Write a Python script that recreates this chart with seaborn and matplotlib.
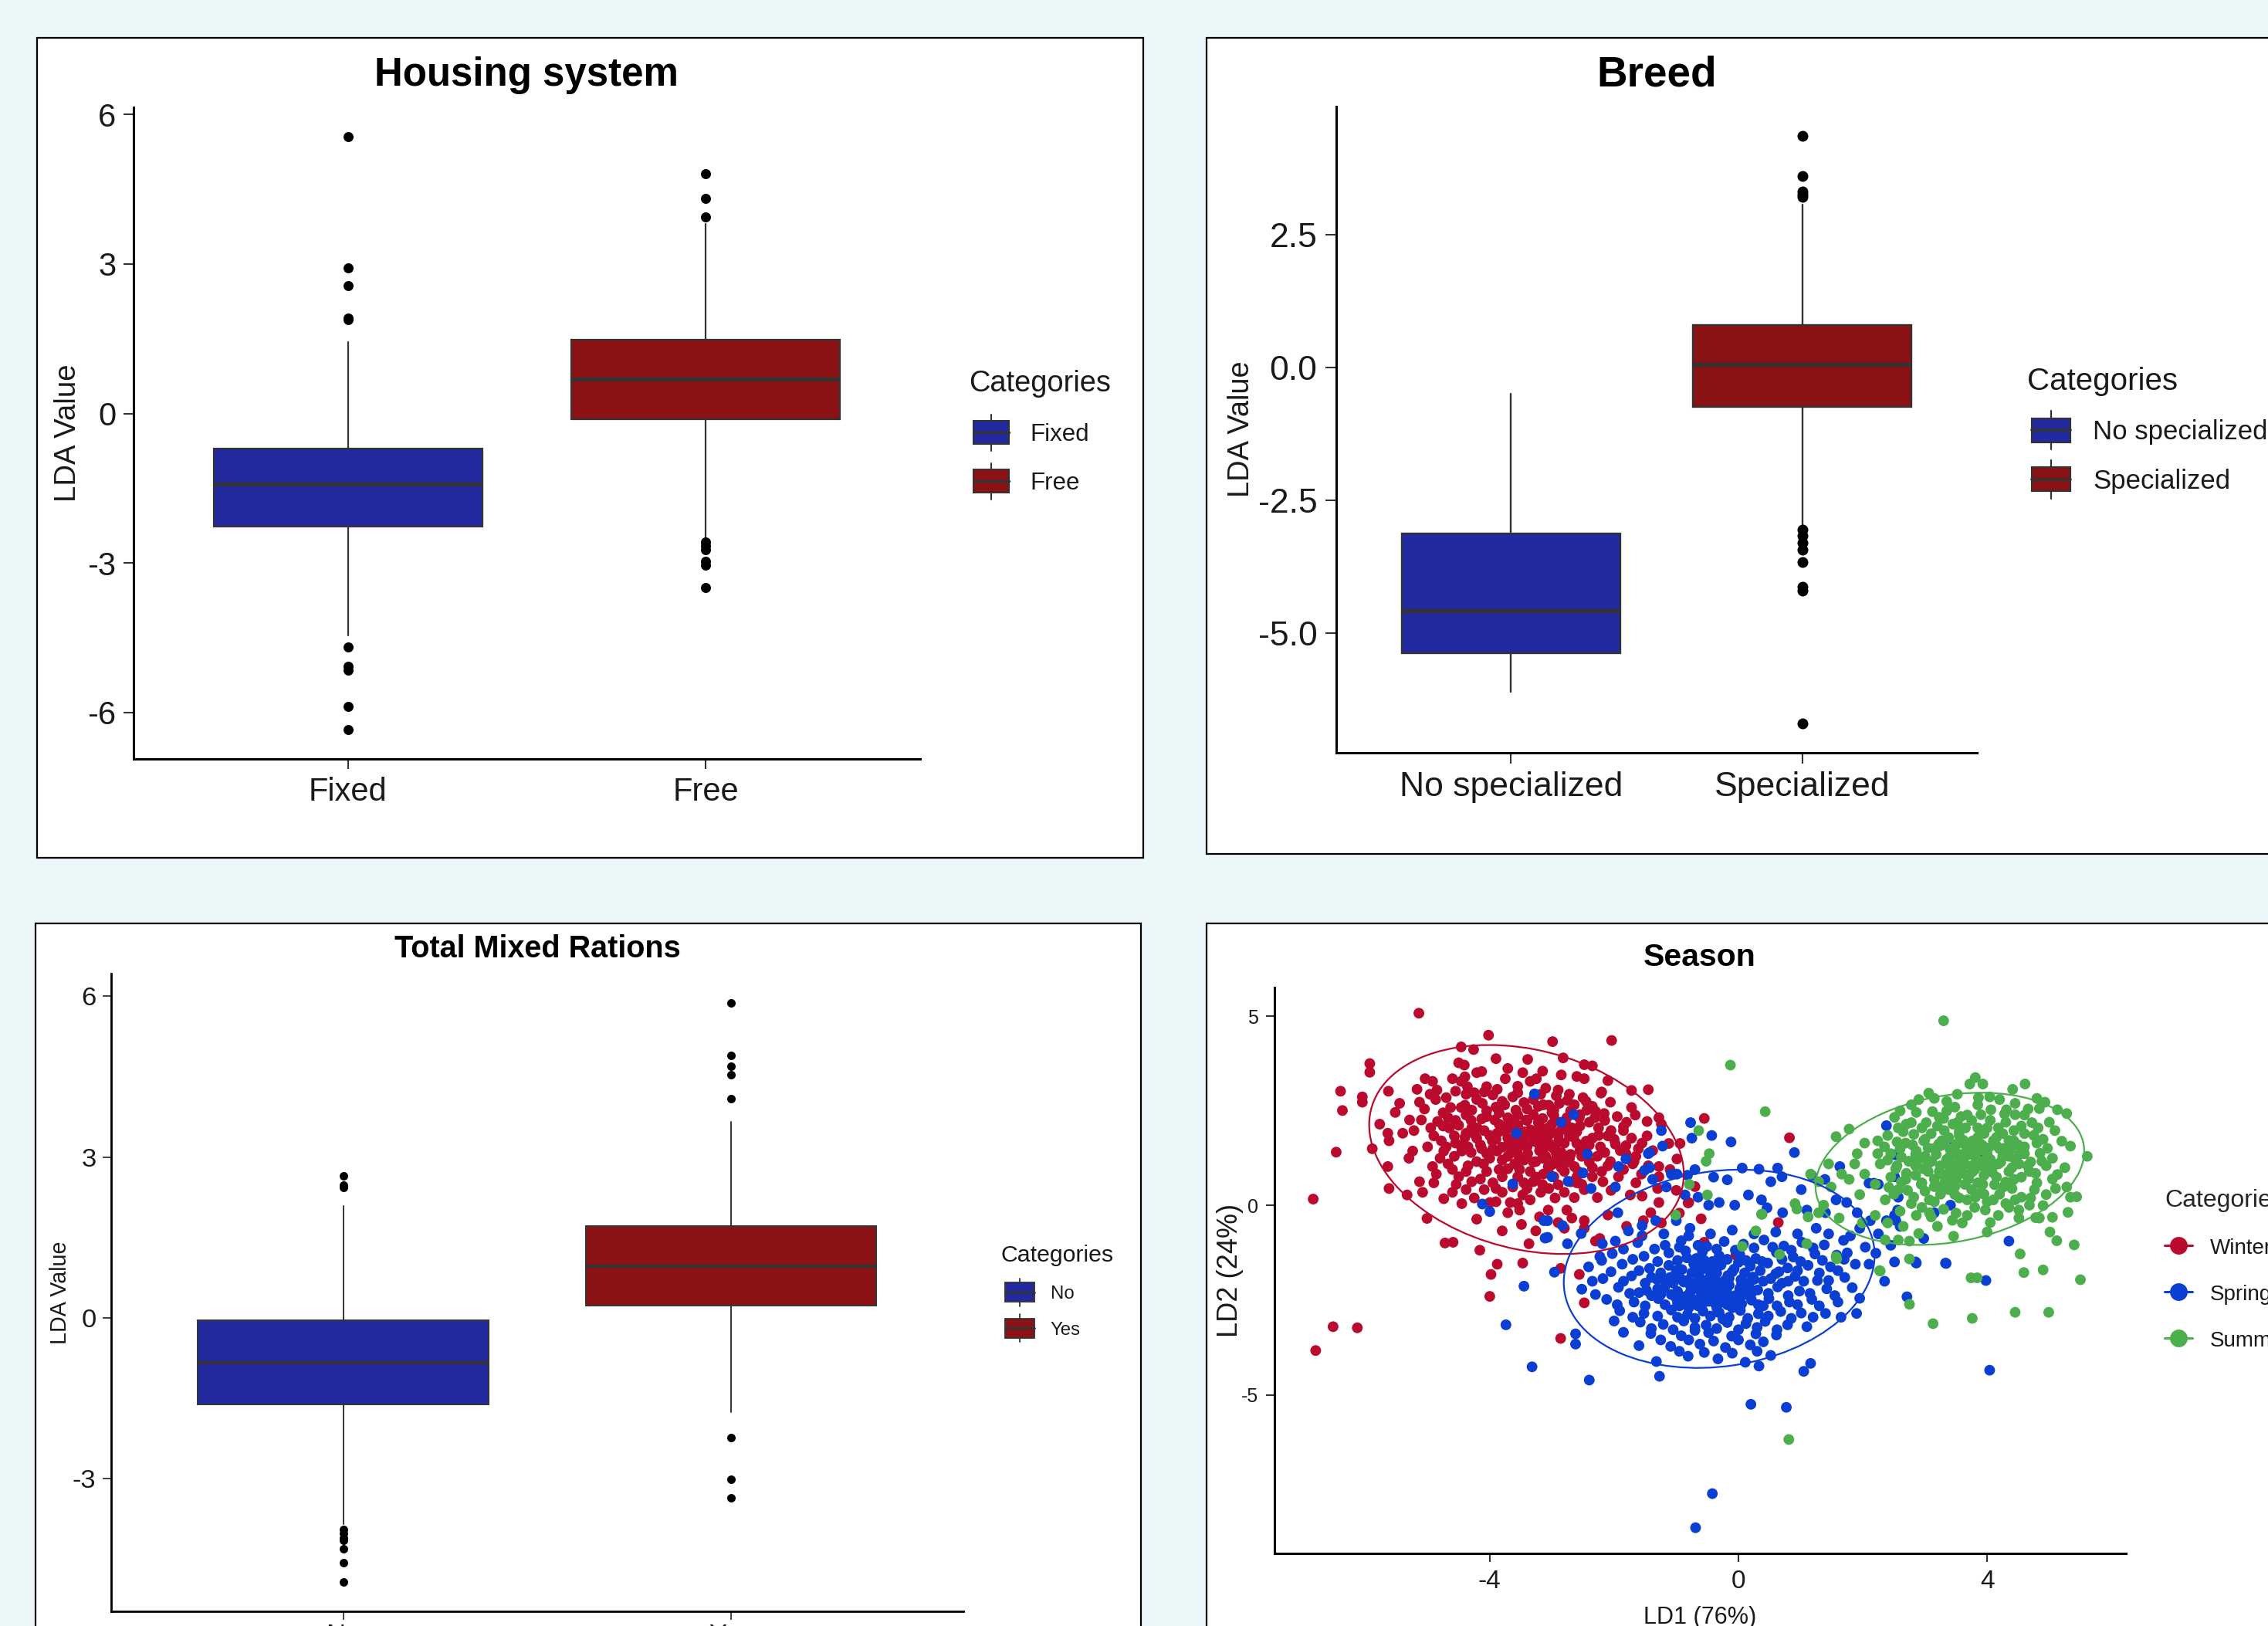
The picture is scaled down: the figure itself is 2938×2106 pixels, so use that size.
import numpy as np
import pandas as pd
import matplotlib
matplotlib.use("Agg")
import matplotlib.pyplot as plt
import matplotlib.patches as mpatches
from matplotlib.patches import Rectangle, Ellipse
from matplotlib.lines import Line2D
from matplotlib.legend_handler import HandlerBase
import seaborn as sns

# ------------------------------------------------------------------ data
housing_groups = ["Fixed", "Free"]
housing_q1 = [-2.27, -0.12]
housing_med = [-1.42, 0.69]
housing_q3 = [-0.70, 1.48]
housing_whislo = [-4.46, -2.52]
housing_whishi = [1.43, 3.81]
housing_fliers = [[5.55, 2.92, 2.56, 1.92, 1.88, -4.68, -5.07, -5.16, -5.88, -6.34],
                  [4.81, 4.31, 3.95, -2.58, -2.66, -2.74, -2.97, -3.04, -3.50]]
housing_yticks = [-6, -3, 0, 3, 6]

breed_groups = ["No specialized", "Specialized"]
breed_q1 = [-5.38, -0.74]
breed_med = [-4.58, 0.06]
breed_q3 = [-3.13, 0.81]
breed_whislo = [-6.12, -2.99]
breed_whishi = [-0.49, 3.08]
breed_fliers = [[],
                [4.37, 3.62, 3.32, 3.27, 3.22, -3.06, -3.17, -3.30, -3.44, -3.67, -4.13, -4.20, -6.71]]
breed_yticks = [-5.0, -2.5, 0.0, 2.5]
breed_yticklabels = ["-5.0", "-2.5", "0.0", "2.5"]

tmr_groups = ["No", "Yes"]
tmr_q1 = [-1.61, 0.23]
tmr_med = [-0.84, 0.97]
tmr_q3 = [-0.05, 1.71]
tmr_whislo = [-3.84, -1.75]
tmr_whishi = [2.09, 3.65]
tmr_fliers = [[2.65, 2.48, 2.44, -3.94, -4.01, -4.10, -4.15, -4.30, -4.56, -4.93],
              [5.88, 4.89, 4.69, 4.54, 4.09, -2.23, -3.01, -3.36]]
tmr_yticks = [-3, 0, 3, 6]

season_names = ["Winter", "Spring", "Summer"]
season_colors = ["#BA0A2D", "#0B3ED2", "#4CAE4C"]
season_xticks = [-4, 0, 4]
season_yticks = [-5, 0, 5]

winter_pts = [
    (-5.14, 5.08), (-4.02, 4.50), (-2.99, 4.33), (-2.04, 4.36), (-4.46, 4.19), (-4.26, 4.12),
    (-5.93, 3.75), (-5.93, 3.52), (-6.40, 3.02), (-6.37, 2.51), (-6.05, 2.87), (-6.05, 2.73),
    (-6.47, 1.41), (-6.84, 0.17), (-6.52, -3.20), (-6.13, -3.23), (-6.80, -3.83),
    (-0.55, 2.30), (-1.45, 3.06), (-5.62, 0.45), (-5.33, 0.28), (-5.01, -0.34), (-4.72, -0.99),
    (-4.59, -0.97), (-4.16, -1.18), (-3.88, -1.55), (-3.98, -1.82), (-3.47, -1.52), (-4.00, -2.40),
    (-2.48, -2.57), (-2.86, -3.51), (-2.56, -1.82), (-2.86, -1.66),
    (-0.55, -0.97), (-0.04, -1.31), (0.64, -0.45), (-0.81, 0.07), (0.82, 1.79),
    (-4.50, 3.77), (-4.41, 3.71), (-4.21, 3.51), (-4.13, 3.54), (-3.90, 3.88), (-3.71, 3.62),
    (-3.47, 3.51), (-3.39, 3.86), (-2.82, 3.90), (-2.48, 3.72), (-2.35, 3.69), (-2.60, 3.41), (-2.48, 3.35),
    (-5.04, 3.35), (-4.92, 3.28), (-5.17, 3.07), (-4.60, 3.35), (-4.46, 3.28), (-4.36, 3.14),
    (-4.05, 3.14), (-3.88, 3.07), (-3.35, 3.28), (-3.25, 3.35), (-2.20, 3.00), (-1.72, 3.04),
    (-5.63, 3.02), (-4.96, 2.94), (-4.87, 2.80), (-5.13, 2.73), (-4.38, 2.94), (-4.21, 2.80),
    (-4.09, 3.00), (-3.63, 2.87), (-3.30, 2.80), (-3.18, 2.94), (-2.93, 2.90), (-2.72, 2.94),
    (-2.64, 2.66), (-2.06, 2.73), (-2.21, 2.97), (-4.63, 2.59), (-4.46, 2.59), (-4.29, 2.52),
    (-3.76, 2.66), (-3.14, 2.66), (-2.97, 2.52), (-2.44, 2.52), (-2.30, 2.49), (-1.72, 2.59),
    (-5.52, 2.46), (-5.77, 2.15), (-5.29, 2.26), (-5.10, 2.26), (-4.84, 2.22), (-4.67, 2.32),
    (-4.38, 2.39), (-4.13, 2.29), (-3.92, 2.26), (-3.71, 2.32), (-3.55, 2.39), (-3.42, 2.26),
    (-3.22, 2.19), (-2.97, 2.39), (-2.76, 2.32), (-2.56, 2.32), (-2.31, 2.32), (-2.16, 2.43),
    (-1.66, 2.39), (-1.47, 2.22), (-1.28, 2.32), (-1.24, 2.15), (-1.85, 2.08), (-4.50, 2.12),
    (-4.29, 2.05), (-3.80, 2.08), (-3.55, 2.12), (-3.06, 2.05), (-2.68, 2.05),
    (-5.89, 1.50), (-5.64, 1.91), (-5.62, 1.71), (-5.40, 1.91), (-5.22, 1.98), (-4.90, 1.84),
    (-4.78, 1.71), (-4.57, 1.84), (-4.38, 1.91), (-4.21, 1.78), (-4.09, 1.98), (-3.96, 1.71),
    (-3.88, 1.91), (-3.71, 1.78), (-3.59, 1.98), (-3.47, 1.71), (-3.35, 1.84), (-3.22, 1.64),
    (-3.06, 1.84), (-2.89, 1.71), (-2.72, 1.84), (-2.60, 1.64), (-2.35, 1.78), (-2.10, 1.84),
    (-1.85, 1.98), (-1.47, 1.84), (-1.12, 1.64), (-0.94, 1.64), (-4.46, 1.58), (-4.13, 1.50),
    (-3.80, 1.54), (-3.55, 1.50), (-2.97, 1.50), (-2.48, 1.50), (-1.81, 1.58), (-1.61, 1.50),
    (-5.24, 1.44), (-4.74, 1.44), (-4.57, 1.30), (-4.45, 1.44), (-4.21, 1.16), (-4.05, 1.37),
    (-3.88, 1.44), (-3.71, 1.30), (-3.59, 1.10), (-3.39, 1.37), (-3.26, 1.16), (-3.10, 1.30),
    (-2.93, 1.37), (-2.72, 1.23), (-2.52, 1.30), (-2.27, 1.30), (-2.06, 1.16), (-1.81, 1.37),
    (-1.68, 1.16), (-1.28, 1.03), (-0.99, 1.23), (-4.67, 1.10), (-3.06, 1.03), (-2.64, 1.03),
    (-5.64, 1.03), (-4.92, 1.03), (-4.86, 0.83), (-4.50, 0.76), (-4.38, 0.90), (-4.29, 0.63),
    (-4.05, 0.90), (-3.80, 0.76), (-3.71, 0.97), (-3.55, 0.76), (-3.35, 0.90), (-3.30, 0.63),
    (-3.14, 0.83), (-2.97, 0.76), (-2.80, 0.90), (-2.70, 0.63), (-2.52, 0.56), (-2.35, 0.76),
    (-2.18, 0.63), (-1.93, 0.76), (-1.56, 0.83), (-1.28, 0.76), (-5.13, 0.63), (-4.54, 0.56),
    (-5.08, 0.35), (-4.38, 0.42), (-4.09, 0.42), (-3.80, 0.35), (-3.63, 0.49), (-3.47, 0.28),
    (-3.35, 0.15), (-3.18, 0.35), (-2.80, 0.35), (-2.64, 0.21), (-2.48, 0.42), (-2.27, 0.21),
    (-1.74, 0.28), (-1.28, 0.08), (-0.80, 0.08), (-4.74, 0.18), (-4.00, 0.08), (-3.67, 0.08),
    (-4.21, -0.36), (-3.71, -0.19), (-3.52, -0.12), (-3.06, -0.12), (-2.76, -0.12), (-2.68, -0.33),
    (-2.48, -0.40), (-1.41, -0.19), (-1.24, -0.46), (-1.53, -0.40),
    (-3.80, -0.67), (-3.49, -0.50), (-3.26, -0.67), (-2.80, -0.60), (-2.48, -0.60), (-2.23, -0.87),
    (-3.37, -1.01), (-2.30, -0.94),
    (-3.60, 2.05), (-3.35, 2.00), (-3.15, 2.30), (-3.00, 2.15), (-2.85, 2.00), (-3.50, 1.85),
    (-3.25, 1.90), (-3.00, 1.95), (-2.80, 1.65), (-3.70, 1.60), (-3.40, 1.55), (-3.10, 1.55),
    (-2.85, 1.40), (-3.55, 1.35), (-3.20, 1.45), (-2.95, 1.20), (-3.45, 1.20), (-3.80, 1.20),
    (-4.15, 1.60), (-4.00, 1.85), (-3.85, 2.45), (-3.40, 2.55), (-4.30, 2.25), (-2.60, 1.95),
    (-2.45, 1.70), (-3.95, 0.60), (-3.45, 0.60), (-2.90, 0.55), (-4.40, 2.65), (-3.05, 2.65),
    (-4.85, 3.05), (-4.70, 2.85), (-4.55, 3.02), (-4.25, 2.98), (-4.12, 2.70), (-3.95, 2.92),
    (-3.80, 2.75), (-3.55, 2.98), (-3.45, 2.72), (-3.10, 3.10), (-2.90, 3.05), (-2.75, 2.78),
    (-2.50, 2.85), (-2.35, 2.62), (-2.15, 2.25), (-1.95, 2.35), (-1.80, 2.20), (-2.05, 1.98),
    (-2.25, 2.05), (-2.40, 2.20), (-2.55, 2.10), (-2.65, 1.80), (-2.22, 1.55), (-1.98, 1.62),
    (-1.72, 1.78), (-1.55, 1.65), (-1.38, 1.45), (-1.65, 1.30), (-1.90, 1.45), (-2.15, 1.40),
    (-2.40, 1.15), (-2.58, 0.90), (-2.85, 1.00), (-3.05, 0.45), (-3.25, 0.75), (-3.52, 0.95),
    (-3.90, 0.45), (-4.15, 0.70), (-4.35, 1.05), (-4.60, 0.95), (-4.80, 1.25), (-5.00, 1.55),
    (-4.95, 2.05), (-4.75, 2.45), (-4.55, 2.25), (-4.20, 2.05), (-4.05, 2.50), (-3.65, 2.25),
    (-3.30, 2.40), (-2.95, 2.25), (-2.70, 2.50), (-3.20, 2.10), (-3.75, 1.95), (-3.95, 1.50),
    (-4.30, 1.40), (-4.55, 1.65), (-3.15, 1.75), (-2.90, 1.85), (-2.55, 1.45), (-3.65, 1.45),
    (-3.30, 1.15), (-3.00, 1.08), (-2.75, 1.15), (-3.85, 0.95), (-4.10, 1.10), (-3.40, 0.45),
    (-2.95, 0.20), (-2.60, 0.60), (-2.20, 0.90), (-1.85, 0.95), (-1.65, 0.60), (-2.05, 0.40),
    (-3.55, 0.05), (-3.20, -0.30), (-2.90, -0.45), (-4.45, 0.05), (-4.90, 0.60), (-5.30, 1.25),
    (-5.45, 2.70), (-5.05, 2.55), (-4.40, 3.40), (-3.75, 3.35), (-3.55, 3.15), (-3.15, 3.55),
    (-2.85, 3.45), (-3.00, 2.45), (-2.45, 2.75), (-2.10, 3.30), (-3.90, 2.60), (-4.65, 2.05),
    (-3.45, 1.95), (-3.05, 1.65), (-2.75, 2.10), (-3.60, 1.75), (-3.85, 2.15), (-4.40, 1.80),
    (-2.85, 1.25), (-2.35, 1.00), (-3.15, 0.55), (-4.25, 0.20),
    (-3.58, 2.52), (-3.22, 2.62), (-2.88, 2.70), (-3.70, 2.15), (-3.12, 1.95), (-2.70, 1.95),
    (-3.30, 1.70), (-2.95, 1.55), (-3.55, 1.60), (-3.90, 1.75), (-4.25, 1.90), (-4.05, 2.35),
    (-3.40, 2.25), (-2.55, 2.40), (-2.25, 1.85), (-2.00, 1.75), (-3.60, 1.10), (-3.15, 1.25),
    (-2.70, 1.35), (-2.40, 1.60), (-4.00, 1.25), (-4.35, 1.55), (-4.70, 1.55), (-4.75, 2.10),
    (-3.05, 0.85), (-2.60, 0.75), (-2.10, 1.05), (-1.70, 1.10), (-1.45, 1.05), (-1.10, 0.95),
    (-1.30, 0.45), (-1.55, 0.25), (-1.00, 0.40), (-0.70, 0.50), (-0.95, -0.20), (-0.60, -0.35),
    (-1.80, -0.55), (-2.10, -0.25), (-3.90, 0.10), (-4.60, 0.35),
]

spring_pts = [
    (-0.69, -8.51), (-0.42, -7.61), (0.77, -5.33), (0.20, -5.25), (-2.40, -4.61), (-3.32, -4.26),
    (-3.74, -3.15), (-3.45, -2.13), (-1.27, -4.51), (0.33, -4.24), (1.05, -4.38), (1.16, -4.17),
    (4.04, -4.35), (3.98, -1.98), (3.34, -1.53), (4.35, -0.94), (2.71, -2.41), (2.85, -1.49),
    (3.96, 1.28), (3.43, 1.53), (2.38, 2.11), (2.52, 1.34), (-2.62, -3.66), (-2.62, -3.39),
    (-2.96, -1.76), (2.51, -1.49), (3.15, -0.19), (2.98, -0.87),
    (-3.28, 2.95), (-2.65, 2.40), (-2.85, 2.20), (-3.57, 1.91), (-2.43, 1.36), (-2.50, 0.86),
    (-3.00, 0.76), (-3.63, 0.57), (-2.74, 0.64), (-4.12, 0.04), (-4.00, -0.16), (-3.07, -0.40),
    (-3.11, -0.86), (-2.37, 0.45), (-1.93, 1.03), (-1.81, 1.23), (-1.43, 1.40), (-1.24, 1.98),
    (-1.22, 1.57), (-0.75, 1.78), (-0.77, 2.19), (-0.99, 0.83), (-1.43, 1.00),
    (-0.82, 0.80), (-0.70, 0.95), (-0.40, 0.75), (-0.18, 0.68), (0.06, 0.99), (0.33, 0.96),
    (0.63, 0.99), (0.70, 0.76), (0.52, 0.63), (-1.45, 1.37), (-0.43, 1.85), (-0.12, 1.68),
    (0.90, 1.40), (1.63, 1.03), (2.51, 0.76), (2.25, 0.56), (2.10, 0.59), (1.39, 0.69), (1.18, 0.79),
    (-1.51, 0.93), (-1.38, 0.69), (-1.08, 0.83), (-1.16, 0.49), (-0.86, 0.28), (-0.65, 0.22),
    (-0.48, 0.01), (-0.31, 0.08), (-0.06, 0.01), (0.16, 0.28), (0.37, 0.15), (0.46, -0.06),
    (0.71, -0.19), (1.01, 0.42), (1.10, -0.12), (1.40, -0.19), (1.57, 0.15), (1.74, 0.08),
    (1.91, -0.19), (2.12, -0.40), (2.38, -0.40), (2.51, -0.26), (-1.94, -0.19), (-1.77, -0.67),
    (-1.55, -0.53), (-1.33, -0.40), (-1.00, -0.40), (-0.78, -0.60), (-2.53, -0.74), (-2.75, -1.01),
    (-2.19, -1.01), (-1.98, -0.94), (-2.23, -1.35), (-3.13, -0.40), (-3.07, -0.84), (-2.83, -0.53),
    (-1.98, 0.49),
    (-1.62, -0.98), (-1.18, -1.05), (-0.92, -0.93), (-0.51, -1.08), (-0.23, -0.95), (0.08, -1.02),
    (0.41, -0.91), (0.73, -1.07), (1.02, -0.97), (1.38, -1.04), (1.69, -0.92), (2.04, -1.10),
    (-2.03, -1.27), (-1.52, -1.34), (-1.12, -1.25), (-0.83, -1.38), (-0.58, -1.22), (-0.31, -1.33),
    (0.02, -1.29), (0.28, -1.40), (0.61, -1.24), (0.88, -1.36), (1.23, -1.28), (1.58, -1.31), (2.21, -1.26),
    (-2.41, -1.62), (-1.87, -1.55), (-1.43, -1.66), (-1.12, -1.58), (-0.91, -1.69), (-0.72, -1.54),
    (-0.49, -1.63), (-0.28, -1.57), (-0.07, -1.68), (0.19, -1.60), (0.47, -1.52), (0.79, -1.65),
    (1.12, -1.58), (1.48, -1.62), (1.88, -1.55),
    (-2.18, -1.93), (-1.72, -1.86), (-1.31, -1.95), (-1.02, -1.84), (-0.81, -1.97), (-0.63, -1.88),
    (-0.38, -1.92), (-0.17, -1.85), (0.04, -1.96), (0.23, -1.89), (0.52, -1.93), (0.91, -1.87),
    (1.27, -1.98), (1.71, -1.90),
    (-2.52, -2.21), (-1.93, -2.16), (-1.48, -2.24), (-1.19, -2.18), (-0.98, -2.27), (-0.77, -2.13),
    (-0.59, -2.22), (-0.41, -2.17), (-0.19, -2.25), (0.02, -2.19), (0.31, -2.23), (0.63, -2.15),
    (0.98, -2.26), (1.42, -2.20), (1.83, -2.17),
    (-2.12, -2.48), (-1.68, -2.55), (-1.29, -2.46), (-0.98, -2.58), (-0.72, -2.49), (-0.48, -2.53),
    (-0.27, -2.44), (-0.08, -2.57), (0.21, -2.50), (0.49, -2.46), (0.82, -2.55), (1.18, -2.48),
    (-1.91, -2.78), (-1.52, -2.85), (-1.08, -2.76), (-0.82, -2.88), (-0.57, -2.79), (-0.31, -2.83),
    (0.03, -2.77), (0.32, -2.86), (0.68, -2.80), (1.01, -2.84),
    (-1.58, -3.08), (-1.21, -3.14), (-0.88, -3.05), (-0.52, -3.16), (-0.18, -3.09), (0.12, -3.12),
    (0.43, -3.06), (0.79, -3.15),
    (-1.41, -3.38), (-0.92, -3.44), (-0.48, -3.36), (-0.11, -3.45), (0.28, -3.39), (0.61, -3.42),
    (-1.09, -3.72), (-0.62, -3.66), (-0.21, -3.75), (0.19, -3.68), (-1.60, -3.70),
    (-0.81, -3.98), (-0.33, -4.05), (0.52, -3.96), (-1.32, -4.12), (0.11, -4.14),
    (-0.70, -2.05), (-0.50, -2.00), (-0.30, -2.05), (-0.60, -2.35), (-0.40, -2.38), (-0.85, -2.40),
    (-0.20, -2.40), (-0.75, -1.78), (-0.45, -1.75), (-0.15, -2.10), (0.10, -2.35), (-1.05, -2.05),
    (-0.95, -2.65), (-0.65, -2.65), (-0.35, -2.70), (-0.10, -2.70), (-1.25, -2.35), (0.15, -2.05),
    (-0.55, -1.45), (-0.85, -1.20), (0.40, -2.65), (0.60, -1.80), (-1.40, -1.90), (-1.60, -2.30),
    (0.80, -2.00), (-0.25, -3.00), (-0.70, -3.30), (0.00, -1.50),
    (2.25, -0.75), (1.95, -0.60), (2.45, -1.05), (1.75, -1.25), (2.10, -1.55), (2.35, -2.00),
    (1.60, -2.55), (1.95, -2.45), (1.40, -2.85), (1.10, -3.20), (2.60, -0.55),
    (2.57, 0.22), (2.56, -0.12), (2.53, -0.39), (3.41, 0.01), (2.18, 0.59), (2.86, -1.52), (3.33, -1.52),
    (-1.85, -1.15), (-1.35, -1.15), (-0.95, -1.10), (-0.65, -1.05), (-0.35, -1.15), (-0.05, -1.18),
    (0.25, -1.12), (0.55, -1.10), (0.85, -1.18), (1.20, -1.12),
    (-2.20, -1.45), (-1.70, -1.42), (-1.30, -1.48), (-0.98, -1.45), (-0.68, -1.40), (-0.42, -1.48),
    (-0.18, -1.42), (0.12, -1.45), (0.38, -1.48), (0.70, -1.42), (1.00, -1.48), (1.35, -1.45), (1.70, -1.42),
    (-2.05, -1.75), (-1.60, -1.72), (-1.25, -1.78), (-1.00, -1.72), (-0.60, -1.70), (-0.35, -1.78),
    (-0.10, -1.75), (0.10, -1.78), (0.35, -1.72), (0.65, -1.75), (0.95, -1.72), (1.30, -1.78), (1.60, -1.72),
    (-2.35, -2.00), (-1.85, -2.00), (-1.50, -2.05), (-1.18, -2.00), (-0.92, -1.95), (-0.65, -2.10),
    (-0.40, -2.05), (-0.22, -1.98), (0.05, -2.08), (0.40, -2.00), (0.70, -2.05), (1.05, -2.00), (1.45, -1.98),
    (-2.30, -2.35), (-1.75, -2.32), (-1.40, -2.38), (-1.08, -2.35), (-0.78, -2.30), (-0.52, -2.40),
    (-0.28, -2.32), (-0.05, -2.38), (0.20, -2.35), (0.48, -2.32), (0.80, -2.38), (1.15, -2.32), (1.55, -2.38),
    (-1.95, -2.62), (-1.50, -2.65), (-1.18, -2.62), (-0.85, -2.55), (-0.58, -2.60), (-0.38, -2.58),
    (-0.18, -2.62), (0.05, -2.60), (0.32, -2.62), (0.62, -2.65), (0.95, -2.62), (1.30, -2.65),
    (-1.70, -2.95), (-1.30, -2.92), (-0.98, -2.95), (-0.70, -2.98), (-0.45, -2.92), (-0.15, -2.95),
    (0.15, -2.98), (0.48, -2.92), (0.85, -2.98), (1.20, -2.95),
    (-1.40, -3.25), (-1.05, -3.28), (-0.70, -3.22), (-0.35, -3.25), (0.00, -3.28), (0.30, -3.22), (0.62, -3.28),
    (-1.25, -3.55), (-0.80, -3.55), (-0.40, -3.58), (0.00, -3.55), (0.40, -3.60),
    (-0.95, -3.85), (-0.55, -3.88), (-0.10, -3.90), (0.30, -3.85),
    (-0.60, -1.95), (-0.48, -2.22), (-0.72, -2.20), (-0.30, -2.25), (-0.88, -2.02), (-0.15, -1.92),
    (-0.55, -2.50), (-0.80, -2.70), (-0.25, -2.55), (-1.00, -2.45), (0.00, -2.48), (-0.45, -1.85),
    (-0.62, -1.62), (-0.38, -1.58), (-1.10, -1.90), (-1.30, -2.20), (0.25, -1.95), (0.18, -2.18),
    (1.45, -0.75), (1.80, -0.80), (1.25, -0.60), (0.95, -0.75), (0.60, -0.70), (0.25, -0.75),
    (-0.10, -0.65), (-0.45, -0.75), (-0.80, -0.80), (-1.20, -0.75), (-1.55, -0.80), (1.90, -2.85),
    (1.65, -2.95), (-2.00, -3.05), (-1.85, -3.35),
]

summer_pts = [
    (3.30, 4.88), (-0.13, 3.71), (0.43, 2.48), (-0.64, 1.98), (-0.47, 1.37), (-0.52, 1.17),
    (-0.79, 0.56), (-0.50, 0.28), (-1.01, -0.25), (0.37, -0.23), (0.28, -0.67), (0.06, -1.08),
    (0.66, -1.29), (1.10, -1.01), (0.94, -0.09), (1.57, -1.35), (2.27, -1.72), (2.75, -1.41),
    (3.13, -3.12), (2.75, -2.61), (0.81, -6.18), (5.50, -1.96), (4.99, -2.82), (4.45, -2.82),
    (3.76, -2.98), (3.74, -1.91), (3.84, -1.91), (4.59, -1.77), (4.90, -1.70), (4.53, -1.28),
    (5.40, -1.04), (5.12, -0.93), (5.01, -0.70), (5.30, -0.18), (5.44, 0.23), (5.61, 1.30),
    (5.34, 1.57), (5.13, 0.82), (2.28, -1.73), (4.78, -0.32), (5.05, -0.31),
    (3.81, 3.38), (3.72, 3.21), (3.93, 3.21), (4.61, 3.21), (4.41, 3.07), (3.06, 2.97),
    (3.15, 2.83), (3.52, 2.94), (4.04, 2.87), (4.20, 2.80), (4.80, 2.83), (4.93, 2.73),
    (2.90, 2.80), (2.78, 2.66), (5.13, 2.53), (5.28, 2.43), (4.84, 2.56),
    (1.78, 2.02), (1.57, 1.82), (2.51, 2.33), (2.86, 2.46), (3.02, 2.19), (3.23, 2.33),
    (3.48, 2.60), (3.68, 2.39), (3.85, 2.66), (4.06, 2.53), (4.31, 2.53), (4.60, 2.39),
    (4.72, 2.19), (4.82, 2.05), (5.09, 1.98), (2.57, 2.05), (2.78, 2.19), (3.31, 1.98),
    (3.52, 2.19), (3.85, 2.05), (4.18, 2.05), (4.43, 1.98),
    (2.03, 1.65), (2.24, 1.71), (1.91, 1.37), (2.24, 1.37), (2.45, 1.37), (2.69, 1.65),
    (2.86, 1.44), (2.98, 1.71), (3.15, 1.51), (3.27, 1.71), (3.40, 1.30), (3.56, 1.65),
    (3.77, 1.71), (3.93, 1.58), (4.10, 1.71), (4.26, 1.51), (4.43, 1.71), (4.60, 1.37),
    (4.80, 1.65), (4.97, 1.51), (4.88, 1.17), (1.45, 1.10), (1.66, 0.83), (1.87, 1.10),
    (2.03, 0.83), (2.28, 1.10), (2.53, 0.97), (2.74, 1.17), (2.98, 0.97), (3.11, 1.17),
    (3.23, 0.90), (3.35, 1.10), (3.52, 0.90), (3.64, 1.10), (3.77, 0.90), (3.89, 1.17),
    (4.02, 0.97), (4.18, 1.10), (4.35, 0.90), (4.51, 1.10), (4.68, 0.90),
    (1.29, 0.63), (1.49, 0.49), (1.78, 0.69), (1.95, 0.29), (2.20, 0.56), (2.36, 0.15),
    (2.57, 0.42), (2.69, 0.69), (2.82, 0.22), (2.94, 0.56), (3.07, 0.15), (3.23, 0.49),
    (3.35, 0.69), (3.48, 0.29), (3.64, 0.56), (3.81, 0.22), (3.93, 0.56), (4.10, 0.15),
    (4.26, 0.49), (4.43, 0.69), (4.55, 0.22), (4.76, 0.42), (4.95, 0.29), (5.28, 0.49),
    (5.34, 0.22), (2.20, -0.26), (2.40, -0.46), (2.86, -0.26), (3.07, -0.19), (3.44, -0.39),
    (3.60, -0.46), (3.68, -0.26), (3.97, -0.12), (4.18, -0.26), (4.51, -0.12), (4.68, 0.01),
    (2.36, -0.91), (2.57, -0.91), (2.75, -0.94), (2.90, -0.74), (3.46, -0.81), (4.00, -0.70),
    (4.51, -0.33), (4.84, -0.33), (1.58, -1.41), (1.16, 0.83), (1.29, -0.19), (1.37, 0.01),
    (0.91, 0.05), (0.38, -0.23), (1.12, -0.30), (1.62, -0.33), (1.99, -0.46),
    (3.40, 1.50), (3.60, 1.35), (3.80, 1.30), (4.00, 1.35), (3.50, 0.70), (3.70, 0.70),
    (3.95, 0.80), (4.15, 0.75), (3.30, 1.70), (3.55, 1.85), (3.75, 1.55), (3.95, 1.90),
    (4.20, 1.50), (4.35, 1.30), (3.15, 0.70), (3.00, 1.30), (2.85, 1.05), (3.45, 1.05),
    (3.75, 1.05), (4.25, 1.90), (3.10, 1.90), (4.05, 2.25), (3.65, 2.05), (3.30, 2.30),
    (4.50, 1.60), (2.70, 0.85), (3.90, 0.35), (3.25, 0.30), (4.40, 0.45), (2.60, 1.50),
    (2.40, 1.85), (2.65, 1.95), (2.95, 2.05), (3.20, 2.10), (3.45, 2.15), (3.75, 2.25),
    (4.00, 2.05), (4.30, 2.20), (4.55, 2.10), (4.75, 1.85),
    (2.35, 1.55), (2.55, 1.68), (2.80, 1.60), (3.05, 1.52), (3.25, 1.58), (3.50, 1.62),
    (3.70, 1.45), (3.90, 1.62), (4.15, 1.58), (4.35, 1.72), (4.60, 1.55), (4.85, 1.38), (5.05, 1.25),
    (2.40, 1.20), (2.62, 1.28), (2.90, 1.22), (3.18, 1.35), (3.35, 1.22), (3.55, 1.18),
    (3.70, 1.35), (3.85, 1.15), (4.05, 1.22), (4.25, 1.30), (4.45, 1.22), (4.70, 1.15), (4.95, 1.05),
    (2.45, 0.75), (2.62, 0.62), (2.85, 0.80), (3.05, 0.90), (3.28, 0.82), (3.42, 0.60),
    (3.60, 0.85), (3.85, 0.60), (4.08, 0.88), (4.30, 0.62), (4.55, 0.75), (4.80, 0.60), (5.05, 0.70),
    (2.50, 0.30), (2.72, 0.40), (3.00, 0.38), (3.15, 0.10), (3.38, 0.42), (3.55, 0.20),
    (3.75, 0.42), (4.00, 0.10), (4.20, 0.30), (4.45, 0.15), (4.70, 0.20),
    (2.60, -0.15), (2.95, -0.05), (3.30, -0.10), (3.80, -0.05), (4.05, -0.45), (4.35, -0.05),
    (3.20, -0.55), (2.65, -0.55),
    (3.60, 1.00), (3.80, 0.95), (3.50, 1.40), (3.95, 1.45), (3.65, 1.60), (3.40, 0.90),
    (4.10, 1.05), (3.25, 1.05), (3.85, 1.80), (3.55, 1.95), (4.15, 1.80), (3.00, 1.75),
    (2.85, 1.35), (4.40, 1.00), (3.15, 0.50), (3.95, 0.30), (4.60, 1.90), (2.70, 2.15),
    (3.35, 2.50), (4.45, 2.40),
    (3.05, 1.10), (3.22, 1.62), (3.38, 1.80), (3.62, 1.72), (3.82, 1.40), (4.02, 1.52),
    (4.22, 1.15), (4.38, 1.48), (3.72, 0.82), (3.48, 0.50), (3.92, 1.05), (4.12, 0.55),
    (3.32, 0.62), (2.95, 0.60), (4.52, 1.35), (4.65, 1.05), (3.58, 2.35), (3.90, 2.40),
    (4.28, 2.42), (3.12, 2.48), (2.82, 1.88), (2.55, 1.05), (2.42, 0.48), (4.78, 0.85),
    (4.90, 1.75), (3.68, 0.15), (4.30, 0.05), (3.10, -0.30), (3.50, -0.20), (2.78, 0.05),
    (3.86, 2.85), (4.45, 2.70), (3.35, 2.75), (2.60, 2.50), (4.66, 2.55), (5.00, 2.20),
    (5.20, 1.70), (5.25, 1.00), (5.10, 0.45), (4.90, 0.00),
]

# 95% ellipse shapes: centre and (sxx, syy, sxy)
ellipse_centers = [(-3.41, 1.48), (-0.31, -1.67), (3.40, 0.97)]
ellipse_shapes = [(6.40, 7.62, -1.65), (6.25, 6.86, 0.90), (4.67, 4.04, 1.00)]

# ------------------------------------------------------------------ style
W, H, DPI = 2938, 2106, 100
sns.set_theme(style="ticks")
plt.rcParams["font.family"] = ["Liberation Sans", "DejaVu Sans"]
plt.rcParams["axes.unicode_minus"] = False
plt.rcParams["axes.linewidth"] = 2.0

BG = "#ECF7FA"
BLUE = "#23299E"
RED = "#8A1114"
EDGE = "#333333"
TXT = "#1a1a1a"

fig = plt.figure(figsize=(W / DPI, H / DPI), dpi=DPI, facecolor=BG)


def fx(x):
    return x / W


def fy(y):
    return 1 - y / H


def add_frame(x0, y0, x1, y1):
    r = Rectangle((fx(x0), fy(y1)), (x1 - x0) / W, (y1 - y0) / H, transform=fig.transFigure,
                  facecolor="white", edgecolor="black", linewidth=1.6, zorder=-5)
    fig.add_artist(r)


def add_axes(l, t, r, b):
    ax = fig.add_axes([fx(l), fy(b), (r - l) / W, (b - t) / H])
    ax.set_facecolor("white")
    for s in ["top", "right"]:
        ax.spines[s].set_visible(False)
    for s in ["left", "bottom"]:
        ax.spines[s].set_color("black")
    return ax


class BoxKeyHandler(HandlerBase):
    """ggplot-like boxplot legend key (sizes in pixels)."""

    def __init__(self, bw_px, bh_px, wt_px, lw_box, lw_med):
        super().__init__()
        self.bw = bw_px * 0.72
        self.bh = bh_px * 0.72
        self.wt = wt_px * 0.72
        self.lwb = lw_box
        self.lwm = lw_med

    def create_artists(self, legend, orig_handle, xdescent, ydescent, width, height, fontsize, trans):
        cx = -xdescent + width / 2
        cy = -ydescent + height / 2
        bw, bh, wt = self.bw, self.bh, self.wt
        w1 = Line2D([cx, cx], [cy + bh / 2, cy + wt / 2], color=EDGE, lw=self.lwb, transform=trans)
        w2 = Line2D([cx, cx], [cy - bh / 2, cy - wt / 2], color=EDGE, lw=self.lwb, transform=trans)
        box = Rectangle((cx - bw / 2, cy - bh / 2), bw, bh, facecolor=orig_handle.get_facecolor(),
                        edgecolor=EDGE, lw=self.lwb, transform=trans)
        med = Line2D([cx - bw / 2, cx + bw / 2], [cy, cy], color=EDGE, lw=self.lwm, transform=trans)
        return [w1, w2, box, med]


def box_panel(ax, groups, q1, med, q3, lo, hi, fliers, flier_px, lw_box, lw_med):
    stats = []
    for i, g in enumerate(groups):
        stats.append(dict(label=g, q1=q1[i], med=med[i], q3=q3[i],
                          whislo=lo[i], whishi=hi[i], fliers=fliers[i]))
    ms = flier_px * 0.72
    res = ax.bxp(stats, positions=[0, 1], widths=0.75, patch_artist=True, showcaps=False,
                 boxprops=dict(edgecolor=EDGE, linewidth=lw_box),
                 medianprops=dict(color=EDGE, linewidth=lw_med),
                 whiskerprops=dict(color=EDGE, linewidth=lw_box),
                 flierprops=dict(marker="o", markerfacecolor="black", markeredgecolor="black",
                                 markersize=ms, markeredgewidth=0))
    for b, c in zip(res["boxes"], [BLUE, RED]):
        b.set_facecolor(c)
    ax.set_xlim(-0.6, 1.6)
    ax.set_xticks([0, 1])
    ax.set_xticklabels(groups)


def box_legend(ax, groups, anchor_x, anchor_y, bw, bh, wt, label_pt, title_pt, spacing, textpad,
               lw_box, lw_med):
    key_w_pt = bw / 0.8 * 0.72
    handles = [mpatches.Patch(facecolor=c) for c in [BLUE, RED]]
    leg = ax.legend(handles, groups, title="Categories", loc="upper left",
                    bbox_to_anchor=(fx(anchor_x), fy(anchor_y)), bbox_transform=fig.transFigure,
                    frameon=False, borderpad=0, borderaxespad=0,
                    handlelength=key_w_pt / label_pt, handleheight=1.0,
                    labelspacing=spacing, handletextpad=textpad,
                    prop={"size": label_pt}, title_fontsize=title_pt, alignment="left",
                    handler_map={mpatches.Patch: BoxKeyHandler(bw, bh, wt, lw_box, lw_med)})
    for t in leg.get_texts():
        t.set_color(TXT)
    leg.get_title().set_color(TXT)
    return leg


# ------------------------------------------------------------------ frames
add_frame(48, 49, 1481, 1111)
add_frame(1563, 49, 3100, 1106)
add_frame(46, 1196, 1478, 2300)
add_frame(1563, 1196, 3100, 2300)

# ------------------------------------------------------------------ panel 1: Housing
ax1 = add_axes(173, 139, 1192, 983)
box_panel(ax1, housing_groups, housing_q1, housing_med, housing_q3, housing_whislo,
          housing_whishi, housing_fliers, 13, 1.6, 3.6)
ax1.set_yticks(housing_yticks)
ax1.tick_params(axis="both", length=9.4, width=1.5, pad=7.0, labelsize=30,
                color=EDGE, labelcolor=TXT)
ax1.spines["left"].set_linewidth(2.2)
ax1.spines["bottom"].set_linewidth(2.2)
fig.text(fx(682), fy(111), "Housing system", ha="center", va="baseline",
         fontsize=36.7, fontweight="bold", color="black")
fig.text(fx(88), fy(561), "LDA Value", rotation=90, ha="center", va="center",
         fontsize=27.6, color=TXT)
box_legend(ax1, housing_groups, 1255, 479, 46, 30, 47, 22.5, 27.4, 1.0, 0.70, 1.5, 2.4)

# ------------------------------------------------------------------ panel 2: Breed
ax2 = add_axes(1731, 138, 2561, 975)
box_panel(ax2, breed_groups, breed_q1, breed_med, breed_q3, breed_whislo,
          breed_whishi, breed_fliers, 14, 1.7, 3.8)
ax2.set_yticks(breed_yticks)
ax2.set_yticklabels(breed_yticklabels)
ax2.tick_params(axis="both", length=10, width=1.5, pad=7.6, labelsize=32,
                color=EDGE, labelcolor=TXT)
ax2.spines["left"].set_linewidth(2.2)
ax2.spines["bottom"].set_linewidth(2.2)
fig.text(fx(2146), fy(111), "Breed", ha="center", va="baseline",
         fontsize=39.6, fontweight="bold", color="black")
fig.text(fx(1608), fy(556), "LDA Value", rotation=90, ha="center", va="center",
         fontsize=27.4, color=TXT)
box_legend(ax2, breed_groups, 2626, 475, 50, 31, 50, 25, 29, 0.83, 0.65, 1.6, 2.6)

# ------------------------------------------------------------------ panel 3: TMR
ax3 = add_axes(143.5, 1261, 1248, 2087)
box_panel(ax3, tmr_groups, tmr_q1, tmr_med, tmr_q3, tmr_whislo,
          tmr_whishi, tmr_fliers, 11, 1.4, 3.0)
ax3.set_yticks(tmr_yticks)
ax3.tick_params(axis="both", length=7.7, width=1.3, pad=6.0, labelsize=24.8,
                color=EDGE, labelcolor=TXT)
ax3.tick_params(axis="x", pad=3.5)
ax3.spines["left"].set_linewidth(2.0)
ax3.spines["bottom"].set_linewidth(2.0)
fig.text(fx(696), fy(1240), "Total Mixed Rations", ha="center", va="baseline",
         fontsize=28.5, fontweight="bold", color="black")
fig.text(fx(78), fy(1674), "LDA Value", rotation=90, ha="center", va="center",
         fontsize=20.7, color=TXT)
box_legend(ax3, tmr_groups, 1297, 1612, 38, 25, 36, 17.3, 21.8, 0.95, 0.67, 1.3, 2.0)

# ------------------------------------------------------------------ panel 4: Season
ax4 = add_axes(1651, 1279, 2754, 2012)
frames = []
for name, pts in zip(season_names, [winter_pts, spring_pts, summer_pts]):
    arr = np.array(pts)
    frames.append(pd.DataFrame({"LD1": arr[:, 0], "LD2": arr[:, 1], "Season": name}))
season_df = pd.concat(frames, ignore_index=True)
palette = dict(zip(season_names, season_colors))
sns.scatterplot(data=season_df, x="LD1", y="LD2", hue="Season", hue_order=season_names,
                palette=palette, s=100, linewidth=0, alpha=1.0, legend=False, ax=ax4)
for (cx, cy), (sxx, syy, sxy), col in zip(ellipse_centers, ellipse_shapes, season_colors):
    cov = np.array([[sxx, sxy], [sxy, syy]])
    vals, vecs = np.linalg.eigh(cov)
    ang = np.degrees(np.arctan2(vecs[1, 1], vecs[0, 1]))
    e = Ellipse((cx, cy), 2 * np.sqrt(vals[1]), 2 * np.sqrt(vals[0]), angle=ang,
                fill=False, edgecolor=col, linewidth=1.6, zorder=3)
    ax4.add_patch(e)
ax4.set_xticks(season_xticks)
ax4.set_yticks(season_yticks)
ax4.set_xlabel("")
ax4.set_ylabel("")
ax4.tick_params(axis="both", length=8, width=1.5, pad=7.0, color=EDGE, labelcolor=TXT)
ax4.tick_params(axis="x", labelsize=24)
ax4.tick_params(axis="y", labelsize=18)
ax4.spines["left"].set_linewidth(2.2)
ax4.spines["bottom"].set_linewidth(2.2)
fig.text(fx(2202), fy(1251), "Season", ha="center", va="baseline",
         fontsize=29.5, fontweight="bold", color="black")
fig.text(fx(1593), fy(1645), "LD2 (24%)", rotation=90, ha="center", va="center",
         fontsize=26, color=TXT)
fig.text(fx(2202), fy(2080), "LD1 (76%)", ha="center", va="top", fontsize=22, color=TXT)
leg_handles = [Line2D([0], [0], color=c, lw=2.2, marker="o", markersize=16.5, markeredgewidth=0)
               for c in season_colors]
leg4 = ax4.legend(leg_handles, season_names, title="Categories", loc="upper left",
                  bbox_to_anchor=(fx(2804), fy(1540)), bbox_transform=fig.transFigure,
                  frameon=False, borderpad=0, borderaxespad=0, handlelength=1.3,
                  handleheight=1.0, labelspacing=1.15, handletextpad=0.83,
                  prop={"size": 20}, title_fontsize=23, alignment="left")
for t in leg4.get_texts():
    t.set_color(TXT)

fig.savefig("out.png", dpi=DPI, facecolor=BG)
